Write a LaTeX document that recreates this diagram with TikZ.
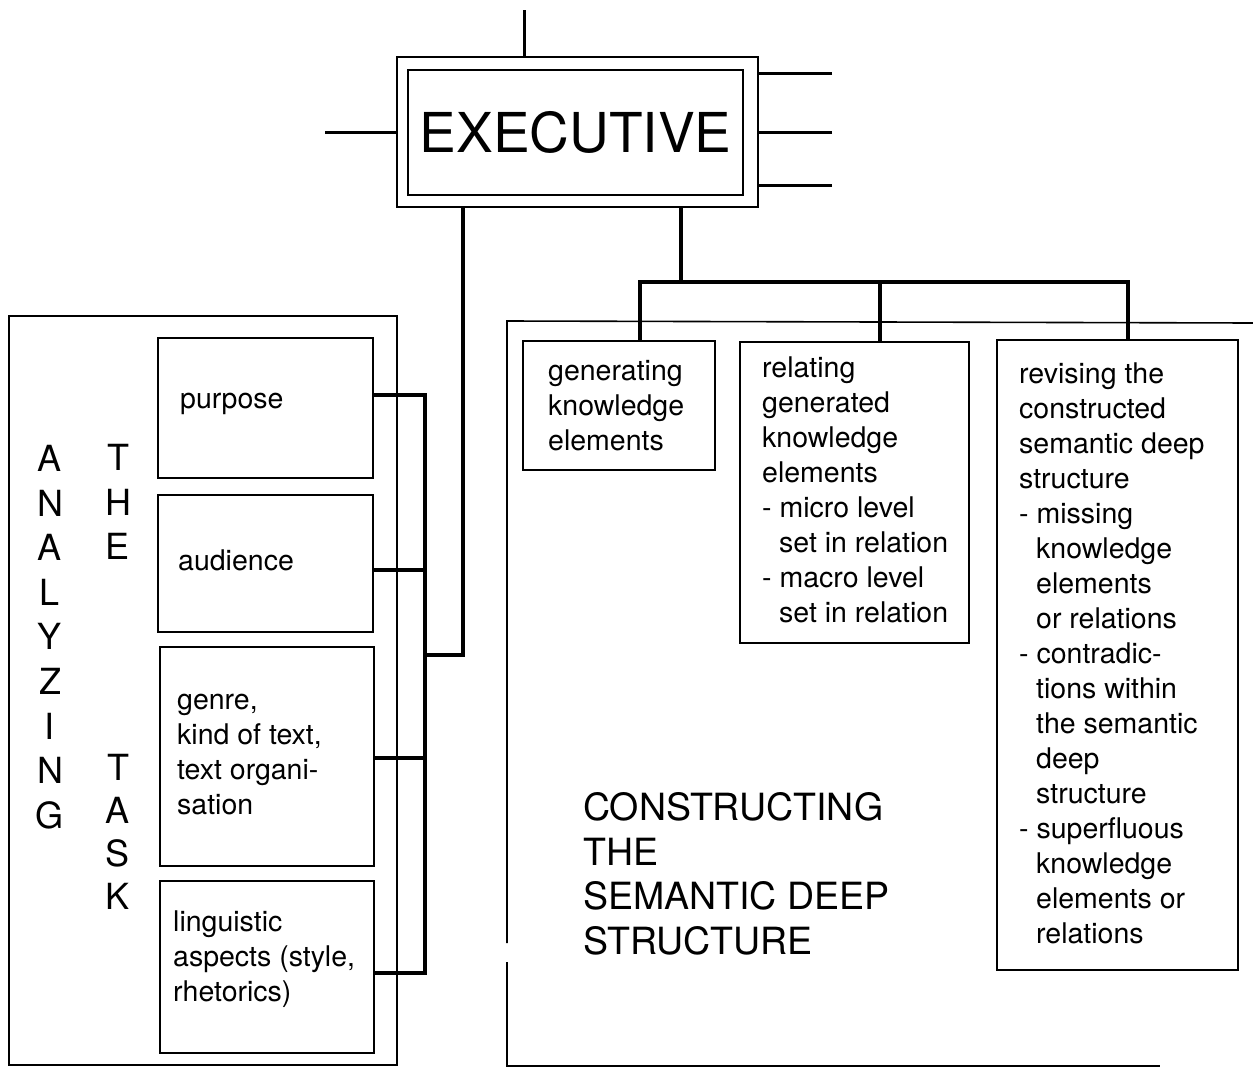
\documentclass[tikz,border=0pt]{standalone}
\usepackage{fontspec}
\setmainfont{TeX Gyre Heros}
\begin{document}
\begin{tikzpicture}[x=1pt, y=-1pt]

      \useasboundingbox (0,0) rectangle (1253,1071);

      % executive
      \begin{scope}[every node/.style={draw, line width=2pt, inner sep=0pt}]
        \node[minimum width=361, minimum height=150] (exec) at (577.5,132) {};
        \node[minimum width=335, minimum height=125,
              font=\fontsize{55}{60}\selectfont] (execin) at (575.5,132.5) {EXECUTIVE};
      \end{scope}

      \coordinate (top) at (524,10);
      \coordinate (lft) at (325,132);
      \coordinate (r1)  at (832,73);
      \coordinate (r2)  at (832,132);
      \coordinate (r3)  at (832,185);

      \begin{scope}[line width=3pt]
        \draw (top) -- (top |- exec.north);
        \draw (lft) -- (exec.west);
        \foreach \r in {r1,r2,r3}
          \draw (\r) -- (\r -| exec.east);
      \end{scope}

      % boxes
      \begin{scope}[every node/.style={draw, line width=1.6pt, inner sep=0pt}]
        \node[minimum width=388, minimum height=749] (ana)  at (203,690.5) {};
        \node[minimum width=215, minimum height=140] (purp) at (265.5,408) {};
        \node[minimum width=215, minimum height=137] (aud)  at (265.5,563.5) {};
        \node[minimum width=214, minimum height=219] (genr) at (267,756.5) {};
        \node[minimum width=214, minimum height=172] (ling) at (267,967) {};
        \node[minimum width=192, minimum height=129] (gen)  at (619,405.5) {};
        \node[minimum width=229, minimum height=301] (rel)  at (854.5,492.5) {};
        \node[minimum width=241, minimum height=630] (rev)  at (1117.5,655) {};
      \end{scope}

      % constructing frame, open on the right
      \draw[line width=1.6pt] (1253,323) -- (507,321) -- (507,943);
      \draw[line width=1.6pt] (507,962) -- (507,1066) -- (1160,1066);

      % texts (placed by the baseline of their last line)
      \begin{scope}[every node/.style={anchor=base west, align=left, inner sep=0pt,
                    font=\fontsize{28.5}{35}\selectfont}]
        \node (purpT) at (180,408) {purpose};
        \node (audT)  at (178,570) {audience};
        \node (genrT) at (177,814) {genre,\\kind of text,\\text organi-\\sation};
        \node (lingT) at (173,1001) {linguistic\\aspects (style,\\rhetorics)};
        \node (genT)  at (548,450) {generating\\knowledge\\elements};
        \node (relT)  at (762,622) {relating\\generated\\knowledge\\elements\\- micro level\\
          \hspace*{17pt}set in relation\\- macro level\\\hspace*{17pt}set in relation};
        \node (revT)  at (1019,943) {revising the\\constructed\\semantic deep\\structure\\
          - missing\\\hspace*{17pt}knowledge\\\hspace*{17pt}elements\\\hspace*{17pt}or relations\\
          - contradic-\\\hspace*{17pt}tions within\\\hspace*{17pt}the semantic\\\hspace*{17pt}deep\\
          \hspace*{17pt}structure\\- superfluous\\\hspace*{17pt}knowledge\\\hspace*{17pt}elements or\\
          \hspace*{17pt}relations};
        \node[font=\fontsize{37.5}{44.5}\selectfont] (consT) at (583,954)
          {CONSTRUCTING\\THE\\SEMANTIC DEEP\\STRUCTURE};
      \end{scope}

      \begin{scope}[every node/.style={anchor=base, align=center, inner sep=0pt,
                    font=\fontsize{36}{44.6}\selectfont}]
        \node (anaT)  at (50,828.3)  {A\\N\\A\\L\\Y\\Z\\I\\N\\G};
        \node (theT)  at (118,559.7) {T\\H\\E};
        \node[font=\fontsize{36}{43}\selectfont] (taskT) at (118,909.5) {T\\A\\S\\K};
      \end{scope}

      % connectors
      \coordinate (b0) at (463,655);
      \coordinate (b1) at (425,395);
      \coordinate (b2) at (425,570);
      \coordinate (b3) at (425,758);
      \coordinate (b4) at (425,973);
      \coordinate (b5) at (425,655);

      \coordinate (j0) at (681,282);
      \coordinate (j1) at (640,282);
      \coordinate (j2) at (880,282);
      \coordinate (j3) at (1128,282);

      \begin{scope}[line width=4.5pt]
        \draw (b1 -| purp.east) -- (b1) -- (b4) -- (b4 -| ling.east);
        \draw (b2 -| aud.east) -- (b2);
        \draw (b3 -| genr.east) -- (b3);
        \draw (exec.south -| b0) -- (b0) -- (b5);

        \draw (exec.south -| j0) -- (j0);
        \draw (j1 |- gen.north) -- (j1) -- (j3) -- (j3 |- rev.north);
        \draw (j2) -- (j2 |- rel.north);
      \end{scope}

    \end{tikzpicture}
\end{document}
